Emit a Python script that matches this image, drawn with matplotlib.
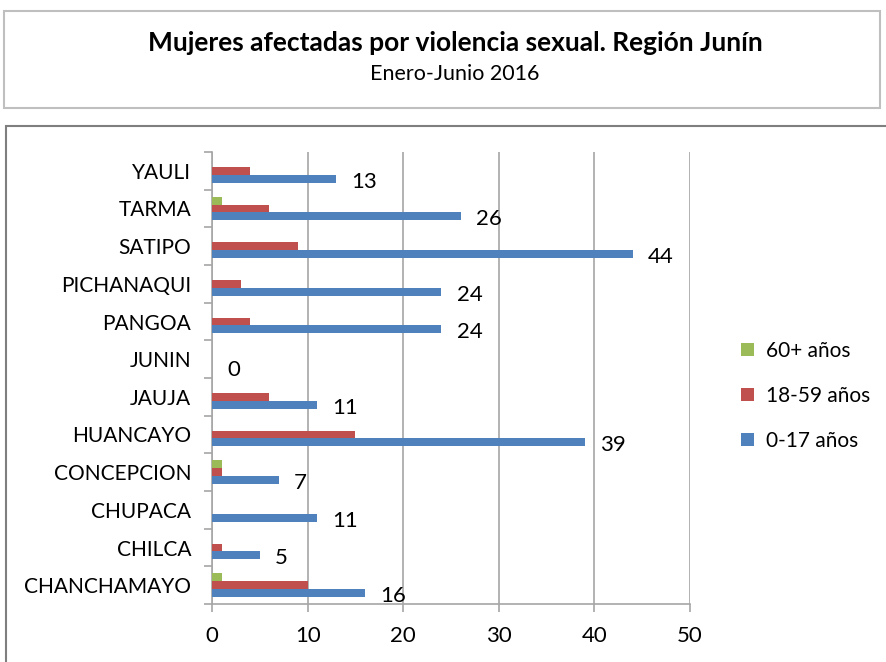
import matplotlib.pyplot as plt
import numpy as np
from matplotlib.patches import Rectangle

# data, bottom to top as drawn
provincias = ["CHANCHAMAYO", "CHILCA", "CHUPACA", "CONCEPCION", "HUANCAYO", "JAUJA",
              "JUNIN", "PANGOA", "PICHANAQUI", "SATIPO", "TARMA", "YAULI"]
edad_0_17 = [16, 5, 11, 7, 39, 11, 0, 24, 24, 44, 26, 13]
edad_18_59 = [10, 1, 0, 1, 15, 6, 0, 4, 3, 9, 6, 4]
edad_60 = [1, 0, 0, 1, 0, 0, 0, 0, 0, 0, 1, 0]
xticks = [0, 10, 20, 30, 40, 50]

BLUE = "#4F81BD"
RED = "#C0504D"
GREEN = "#9BBB59"
GRID = "#A6A6A6"

plt.rcParams['font.family'] = ['Lato', 'DejaVu Sans']

fig = plt.figure(figsize=(8.86, 6.62), dpi=100)
W, H = 886, 662

# title box and chart box
fig.patches.append(Rectangle((4 / W, 1 - 108 / H), 876 / W, 97 / H, transform=fig.transFigure,
                             fill=False, edgecolor="#BFBFBF", linewidth=1.5))
fig.patches.append(Rectangle((6 / W, -0.05), 890 / W, 1 - 126 / H + 0.05, transform=fig.transFigure,
                             fill=False, edgecolor="#7F7F7F", linewidth=1.5))
fig.text(455 / W, 1 - 43 / H, "Mujeres afectadas por violencia sexual. Región Junín",
         ha="center", va="center", fontsize=19, fontweight="bold")
fig.text(455 / W, 1 - 74 / H, "Enero-Junio 2016", ha="center", va="center", fontsize=15.5)

ax = fig.add_axes([212 / W, 1 - 604 / H, 478 / W, 452 / H])

y = np.arange(len(provincias))
h = 0.21
ax.barh(y - h, edad_0_17, height=h, color=BLUE, label="0-17 años", zorder=3)
ax.barh(y, edad_18_59, height=h, color=RED, label="18-59 años", zorder=3)
ax.barh(y + h, edad_60, height=h, color=GREEN, label="60+ años", zorder=3)

for yi, v in zip(y, edad_0_17):
    ax.annotate(str(v), (v, yi - h), xytext=(11, -2), textcoords="offset points",
                ha="left", va="center", fontsize=16)

ax.set_xlim(0, 50)
ax.set_ylim(-0.5, len(provincias) - 0.5)
ax.set_xticks(xticks)
ax.set_yticks(np.arange(len(provincias) + 1) - 0.5, minor=False)
ax.set_yticklabels([])
ax.set_yticks(y, minor=True)
ax.set_yticklabels(provincias, minor=True)
ax.tick_params(axis="y", which="minor", length=0, pad=15, labelsize=15)
ax.tick_params(axis="y", which="major", length=6, color=GRID, width=1.2)
ax.tick_params(axis="x", length=6, color=GRID, width=1.2, pad=10, labelsize=16)

ax.grid(axis="x", color=GRID, linewidth=1.2, zorder=0)
for s in ["top", "right"]:
    ax.spines[s].set_visible(False)
for s in ["left", "bottom"]:
    ax.spines[s].set_color(GRID)
    ax.spines[s].set_linewidth(1.2)

handles, labels = ax.get_legend_handles_labels()
fig.legend(handles[::-1], labels[::-1], loc="center left", bbox_to_anchor=(741 / W, 1 - 396 / H),
           frameon=False, fontsize=15, handlelength=0.6, handleheight=0.6,
           labelspacing=1.2, handletextpad=0.6, borderpad=0, borderaxespad=0)

fig.savefig("out.png", dpi=100)
